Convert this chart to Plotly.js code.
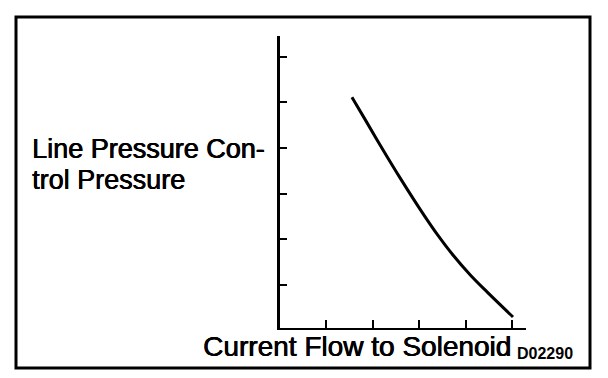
<!DOCTYPE html>
<html>
<head>
<meta charset="utf-8">
<script src="https://cdn.plot.ly/plotly-3.0.1.min.js"></script>
<style>html,body{margin:0;padding:0;background:#fff;}#chart{width:608px;height:378px;}</style>
</head>
<body>
<div id="chart"></div>
<script>
// Data (arbitrary units; ticks at integer units)
var current = [1.55, 1.87, 2.23, 2.59, 3.03, 3.38, 3.74, 4.10, 4.46, 5.02];
var pressure = [5.11, 4.56, 3.94, 3.34, 2.64, 2.12, 1.64, 1.22, 0.85, 0.30];
var xTicks = [1, 2, 3, 4, 5];
var yTicks = [1, 2, 3, 4, 5, 6];
var yLabelLines = ["Line Pressure Con-", "trol Pressure"];
var xLabel = "Current Flow to Solenoid";
var figCode = "D02290";

var W = 608, H = 378;
var L = 280, R = 82, T = 36, B = 50;
var pw = W - L - R, ph = H - T - B;
function px(x){ return (x - L) / pw; }
function py(y){ return (H - B - y) / ph; }

var trace = {
  x: current, y: pressure, type: 'scatter', mode: 'lines',
  line: {color: '#000', width: 3, shape: 'spline', smoothing: 1},
  hoverinfo: 'skip', showlegend: false
};

var font = "'Liberation Sans', Arial, sans-serif";
var heavy = '0.6px 0 0 #000, 0 0.4px 0 #000';
var layout = {
  width: W, height: H, autosize: false,
  margin: {l: L, r: R, t: T, b: B, pad: 0},
  paper_bgcolor: '#fff', plot_bgcolor: '#fff',
  showlegend: false,
  xaxis: {range: [0, 5.3], showgrid: false, zeroline: false, showline: true,
          linecolor: '#000', linewidth: 2, ticks: 'inside', ticklen: 8, tickwidth: 2,
          tickcolor: '#000', tickvals: xTicks, showticklabels: false, fixedrange: true},
  yaxis: {range: [0.06, 6.45], showgrid: false, zeroline: false, showline: true,
          linecolor: '#000', linewidth: 3, ticks: 'inside', ticklen: 7, tickwidth: 2,
          tickcolor: '#000', tickvals: yTicks, showticklabels: false, fixedrange: true},
  shapes: [{type: 'rect', xref: 'paper', yref: 'paper',
            x0: px(16), x1: px(590), y0: py(368), y1: py(17),
            line: {color: '#000', width: 3}}],
  annotations: [
    {text: yLabelLines[0], xref: 'paper', yref: 'paper', x: px(30), y: py(149),
     xanchor: 'left', yanchor: 'middle', showarrow: false,
     font: {family: font, size: 27, color: '#000', shadow: heavy}},
    {text: yLabelLines[1], xref: 'paper', yref: 'paper', x: px(30), y: py(180),
     xanchor: 'left', yanchor: 'middle', showarrow: false,
     font: {family: font, size: 27, color: '#000', shadow: heavy}},
    {text: xLabel, xref: 'paper', yref: 'paper', x: px(201), y: py(346),
     xanchor: 'left', yanchor: 'middle', showarrow: false,
     font: {family: font, size: 28, color: '#000', shadow: heavy}},
    {text: figCode, xref: 'paper', yref: 'paper', x: px(515), y: py(353),
     xanchor: 'left', yanchor: 'middle', showarrow: false,
     font: {family: font, size: 16, color: '#000', weight: 'bold'}}
  ]
};

Plotly.newPlot('chart', [trace], layout, {staticPlot: true, displayModeBar: false});
</script>
</body>
</html>
